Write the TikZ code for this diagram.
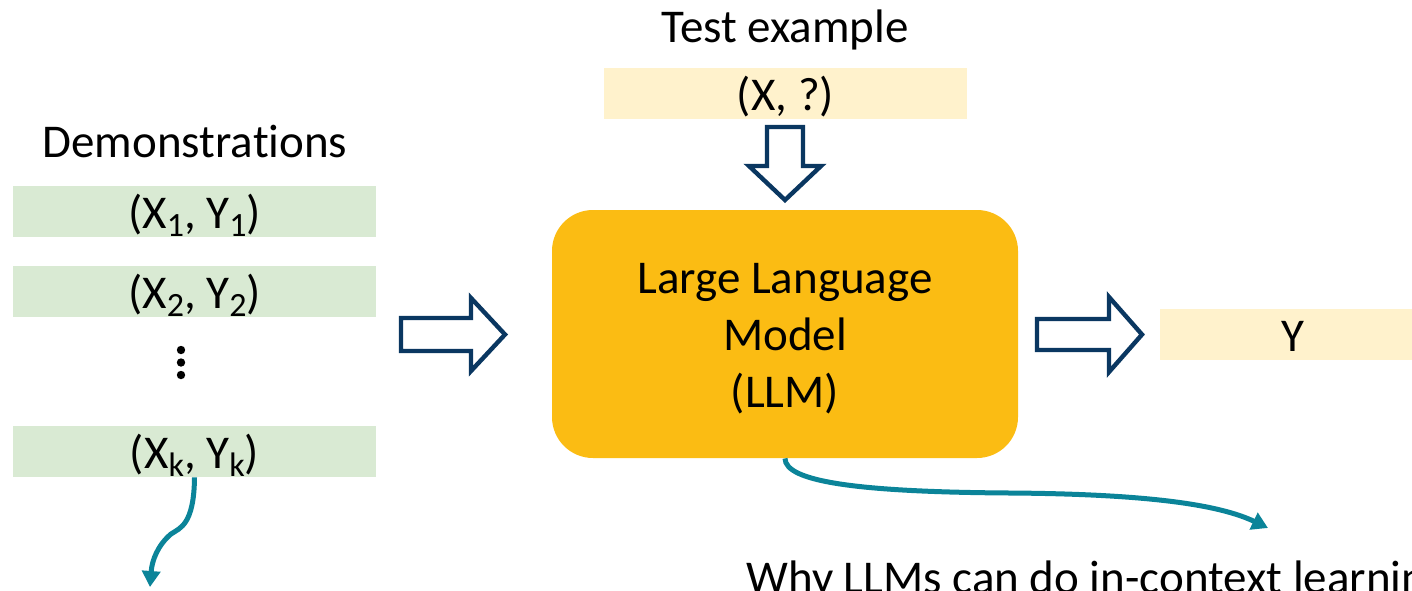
\documentclass[tikz,border=0pt]{standalone}
\usepackage{fontspec}
\setmainfont{Carlito}[Ligatures={NoCommon,NoContextual}]
\usetikzlibrary{arrows.meta}
\definecolor{democ}{HTML}{D9EAD3}
\definecolor{testc}{HTML}{FFF2CC}
\definecolor{llmc}{HTML}{FBBC13}
\definecolor{navyc}{HTML}{0A3761}
\definecolor{tealc}{HTML}{0B8499}
\newcommand\subx[1]{\raisebox{-4pt}{\fontsize{17}{17}\selectfont #1}}
\begin{document}
\begin{tikzpicture}[x=0.5pt,y=-0.5pt,
  every node/.style={font=\fontsize{23.5}{28.5}\selectfont, inner sep=0pt},
  demobox/.style={fill=democ, minimum width=181.5pt, minimum height=25.5pt, text height=21pt, text depth=4.5pt},
  yelbox/.style={fill=testc, minimum height=25.5pt, text height=21pt, text depth=4.5pt},
  blockarrow/.style={draw=navyc, line width=2.2pt, fill=white, line join=miter},
  curvearrow/.style={draw=tealc, line width=2.5pt, -{Triangle[width=9pt,length=8pt]}}]
\useasboundingbox (0,0) rectangle (1412,590);
% labels
\node[anchor=base] (demolabel) at (195,157) {Demonstrations};
\node[anchor=base] (testlabel) at (785,42) {Test example};
% demonstrations
\node[demobox] (d1) at (194.5,211.5) {(X\subx{1}, Y\subx{1})};
\node[demobox] (d2) at (194.5,291.5) {(X\subx{2}, Y\subx{2})};
\node[demobox] (dk) at (194.5,451.5) {(X\subx{k}, Y\subx{k})};
\fill (181,350) circle (2.1pt) (181,362.5) circle (2.1pt) (181,375) circle (2.1pt);
% test example
\node[yelbox, minimum width=181.5pt] (test) at (785.5,93.5) {(X, ?)};
% LLM
\node[fill=llmc, rounded corners=20.5pt, minimum width=233pt, minimum height=124pt, align=center] (llm) at (785,334) {\rule{0pt}{20pt}Large Language\\Model\\(LLM)};
% output
\node[yelbox, minimum width=133pt] (out) at (1293,334.5) {Y};
% block arrows
\draw[blockarrow] (401,318) -- (471,318) -- (471,298) -- (505,334.5) -- (471,371) -- (471,351) -- (401,351) -- cycle;
\draw[blockarrow] (1037,319) -- (1109,319) -- (1109,297) -- (1142,334.5) -- (1109,372) -- (1109,350) -- (1037,350) -- cycle;
\draw[blockarrow] (767,127) -- (803,127) -- (803,166) -- (821,166) -- (785,200) -- (749,166) -- (767,166) -- cycle;
% curved arrows
\coordinate (q1) at (150,587);
\coordinate (q2) at (1268,528);
\draw[curvearrow] (dk.south) .. controls (194,525) and (180,528) .. (171,534) .. controls (158,545) and (152,560) .. (q1);
\draw[curvearrow] (llm.south) .. controls (785,482) and (860,492) .. (1010,493) .. controls (1150,494) and (1220,505) .. (q2);
% question
\node[anchor=base west] (why) at (746,593) {Why LLMs can do in-context learning?};
\end{tikzpicture}
\end{document}
